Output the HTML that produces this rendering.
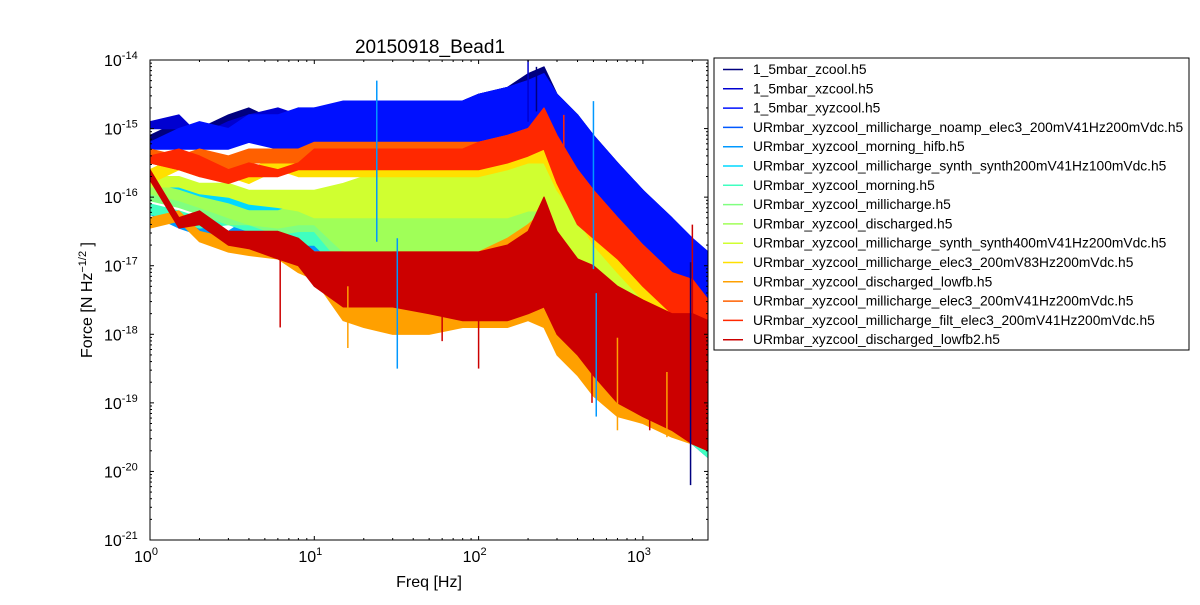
<!DOCTYPE html>
<html><head><meta charset="utf-8"><style>
body{margin:0;background:#fff;}
svg text{font-family:"Liberation Sans","DejaVu Sans",sans-serif;}
</style></head><body>
<svg id="chart" width="1200" height="600" xmlns="http://www.w3.org/2000/svg">
<rect width="1200" height="600" fill="#fff"/>
<defs><clipPath id="pc"><rect x="150" y="60" width="558" height="480"/></clipPath></defs>
<g id="marks" clip-path="url(#pc)"></g>
<rect x="150" y="60" width="558" height="480" fill="none" stroke="#000" stroke-width="1"/>
<g id="ticks"></g>
<text x="430" y="53" font-size="19" text-anchor="middle">20150918_Bead1</text>
<text x="429" y="587" font-size="16" text-anchor="middle">Freq [Hz]</text>
<text transform="translate(92,300) rotate(-90)" font-size="16" text-anchor="middle">Force [N Hz<tspan font-size="11" dy="-6">−1/2</tspan><tspan dy="6"> ]</tspan></text>
<g id="legend"></g>
</svg>
<script>
const names=["1_5mbar_zcool.h5","1_5mbar_xzcool.h5","1_5mbar_xyzcool.h5","URmbar_xyzcool_millicharge_noamp_elec3_200mV41Hz200mVdc.h5","URmbar_xyzcool_morning_hifb.h5","URmbar_xyzcool_millicharge_synth_synth200mV41Hz100mVdc.h5","URmbar_xyzcool_morning.h5","URmbar_xyzcool_millicharge.h5","URmbar_xyzcool_discharged.h5","URmbar_xyzcool_millicharge_synth_synth400mV41Hz200mVdc.h5","URmbar_xyzcool_millicharge_elec3_200mV83Hz200mVdc.h5","URmbar_xyzcool_discharged_lowfb.h5","URmbar_xyzcool_millicharge_elec3_200mV41Hz200mVdc.h5","URmbar_xyzcool_millicharge_filt_elec3_200mV41Hz200mVdc.h5","URmbar_xyzcool_discharged_lowfb2.h5"];
const colors=["#00007f","#0000d0","#0010ff","#0058ff","#0098ff","#00d8ff","#40ffc0","#80ff80","#a0ff58","#d0ff30","#ffe000","#ffa000","#ff6000","#ff2800","#cc0000"];
const freqs=[1,1.5,2,3,4,6,8,10,15,20,30,50,80,100,150,200,250,300,400,500,700,1000,1500,2000,2500];
const hi0=[-15.1,-14.9,-15.0,-14.8,-14.7,-14.9,-14.7,-14.8,-14.7,-14.7,-14.6,-14.6,-14.6,-14.5,-14.4,-14.2,-14.1,-14.5,-14.8,-15.1,-15.5,-15.9,-16.4,-16.8,-16.9];
const lo0=[-15.2,-15.0,-15.3,-15.1,-15.0,-15.2,-15.1,-15.2,-15.4,-15.5,-15.6,-15.6,-15.5,-15.5,-15.5,-15.3,-15.4,-15.8,-16.1,-16.4,-16.8,-17.2,-17.5,-17.7,-17.8];
const hi1=[-14.9,-14.8,-15.1,-14.9,-14.8,-14.7,-14.8,-14.7,-14.7,-14.6,-14.6,-14.6,-14.6,-14.5,-14.4,-14.3,-14.2,-14.5,-14.8,-15.1,-15.5,-15.9,-16.3,-16.7,-16.8];
const lo1=[-15.0,-15.0,-15.3,-15.2,-15.1,-15.1,-15.2,-15.3,-15.4,-15.5,-15.5,-15.5,-15.5,-15.4,-15.4,-15.3,-15.4,-15.8,-16.1,-16.4,-16.8,-17.2,-17.5,-17.7,-17.9];
const hi2=[-15.2,-15.0,-14.9,-15.0,-14.8,-14.8,-14.7,-14.7,-14.6,-14.6,-14.6,-14.6,-14.6,-14.5,-14.4,-14.3,-14.2,-14.5,-14.8,-15.1,-15.5,-15.9,-16.3,-16.6,-16.8];
const lo2=[-15.3,-15.3,-15.3,-15.3,-15.2,-15.3,-15.3,-15.3,-15.4,-15.5,-15.6,-15.6,-15.5,-15.5,-15.4,-15.3,-15.4,-15.8,-16.1,-16.4,-16.8,-17.2,-17.5,-17.7,-17.9];
const hi3=[-15.6,-15.9,-16.0,-16.2,-16.0,-16.4,-16.3,-16.3,-16.2,-16.0,-15.9,-15.8,-15.7,-15.6,-15.6,-15.5,-15.3,-15.8,-16.2,-16.6,-17.1,-17.5,-18.0,-18.2,-18.4];
const lo3=[-15.75,-16.05,-16.15,-16.35,-16.2,-16.6,-16.55,-16.6,-17.1,-17.2,-17.3,-17.3,-17.3,-17.2,-17.2,-17.1,-17.2,-17.6,-17.9,-18.2,-18.6,-19.0,-19.3,-19.6,-19.8];
const hi4=[-16.1,-16.3,-16.4,-16.5,-16.3,-16.5,-16.6,-16.4,-16.2,-16.0,-15.8,-15.7,-15.6,-15.6,-15.5,-15.4,-15.3,-15.8,-16.2,-16.6,-17.1,-17.5,-17.9,-18.1,-18.3];
const lo4=[-16.25,-16.45,-16.55,-16.7,-16.5,-16.75,-16.85,-16.8,-17.3,-17.3,-17.4,-17.3,-17.3,-17.2,-17.2,-17.1,-17.2,-17.6,-17.9,-18.2,-18.6,-19.0,-19.4,-19.6,-19.8];
const hi5=[-15.8,-15.8,-15.9,-15.9,-16.0,-16.0,-16.1,-16.0,-16.0,-15.8,-15.6,-15.5,-15.5,-15.6,-15.6,-15.5,-15.4,-15.9,-16.4,-16.8,-17.2,-17.6,-18.0,-18.3,-18.5];
const lo5=[-15.95,-15.95,-16.05,-16.1,-16.2,-16.25,-16.35,-16.4,-16.9,-17.0,-17.1,-17.1,-17.1,-17.0,-17.0,-16.9,-17.0,-17.4,-17.8,-18.1,-18.5,-18.9,-19.2,-19.4,-19.6];
const hi6=[-16.1,-16.2,-16.3,-16.2,-16.3,-16.3,-16.4,-16.3,-16.2,-16.0,-15.9,-15.8,-15.8,-15.8,-15.7,-15.6,-15.5,-16.0,-16.5,-16.9,-17.3,-17.7,-18.1,-18.3,-18.5];
const lo6=[-16.25,-16.35,-16.45,-16.4,-16.5,-16.55,-16.7,-16.7,-17.1,-17.2,-17.2,-17.3,-17.3,-17.2,-17.2,-17.1,-17.2,-17.6,-18.0,-18.3,-18.7,-19.1,-19.4,-19.6,-19.8];
const hi7=[-15.9,-16.0,-16.1,-16.2,-16.2,-16.3,-16.2,-16.1,-16.0,-15.9,-15.8,-15.8,-15.7,-15.7,-15.6,-15.5,-15.4,-15.9,-16.4,-16.8,-17.2,-17.6,-18.0,-18.2,-18.4];
const lo7=[-16.05,-16.15,-16.25,-16.4,-16.4,-16.55,-16.5,-16.5,-17.0,-17.0,-17.0,-17.0,-17.0,-16.9,-16.9,-16.8,-16.9,-17.3,-17.7,-18.1,-18.5,-18.9,-19.3,-19.5,-19.7];
const hi8=[-15.8,-15.9,-16.0,-16.1,-16.2,-16.2,-16.1,-16.0,-15.9,-15.9,-15.8,-15.8,-15.7,-15.7,-15.6,-15.5,-15.4,-15.9,-16.4,-16.8,-17.2,-17.6,-17.9,-18.1,-18.3];
const lo8=[-15.95,-16.05,-16.15,-16.3,-16.4,-16.45,-16.4,-16.4,-16.8,-16.8,-16.8,-16.8,-16.8,-16.8,-16.8,-16.7,-16.8,-17.2,-17.6,-18.0,-18.4,-18.8,-19.2,-19.4,-19.6];
const hi9=[-15.7,-15.7,-15.8,-15.8,-15.9,-15.9,-15.9,-15.9,-15.8,-15.7,-15.7,-15.6,-15.6,-15.6,-15.5,-15.4,-15.3,-15.8,-16.3,-16.7,-17.1,-17.5,-17.9,-18.1,-18.3];
const lo9=[-15.85,-15.85,-15.95,-16.0,-16.1,-16.15,-16.2,-16.3,-16.3,-16.3,-16.3,-16.3,-16.3,-16.3,-16.3,-16.2,-16.2,-17.0,-17.4,-17.8,-18.2,-18.6,-19.0,-19.2,-19.4];
const hi10=[-15.6,-15.4,-15.5,-15.5,-15.6,-15.4,-15.5,-15.4,-15.4,-15.4,-15.4,-15.4,-15.4,-15.4,-15.3,-15.2,-15.1,-15.5,-15.9,-16.3,-16.7,-17.1,-17.5,-17.7,-17.9];
const lo10=[-15.8,-15.6,-15.7,-15.7,-15.8,-15.6,-15.7,-15.7,-15.7,-15.7,-15.7,-15.7,-15.7,-15.7,-15.6,-15.5,-15.5,-15.9,-16.3,-16.7,-17.1,-17.5,-17.9,-18.1,-18.3];
const hi11=[-16.3,-16.2,-16.5,-16.6,-16.6,-16.6,-16.8,-16.8,-16.8,-16.9,-16.8,-16.8,-16.8,-16.8,-16.6,-16.4,-16.2,-16.5,-16.9,-17.2,-17.5,-17.8,-18.0,-18.2,-18.4];
const lo11=[-16.45,-16.35,-16.65,-16.8,-16.85,-16.9,-17.1,-17.2,-17.8,-17.9,-18.0,-18.0,-17.9,-17.9,-17.9,-17.8,-17.9,-18.3,-18.6,-18.9,-19.2,-19.3,-19.5,-19.6,-19.7];
const hi12=[-15.3,-15.4,-15.3,-15.4,-15.3,-15.3,-15.3,-15.2,-15.2,-15.2,-15.2,-15.2,-15.2,-15.2,-15.1,-15.0,-14.8,-15.2,-15.6,-15.9,-16.3,-16.7,-17.1,-17.3,-17.5];
const lo12=[-15.5,-15.6,-15.5,-15.6,-15.5,-15.5,-15.5,-15.5,-15.5,-15.5,-15.5,-15.5,-15.5,-15.5,-15.4,-15.3,-15.2,-15.6,-16.0,-16.4,-16.8,-17.2,-17.6,-17.8,-18.0];
const hi13=[-15.4,-15.3,-15.4,-15.6,-15.5,-15.6,-15.5,-15.3,-15.3,-15.3,-15.3,-15.3,-15.3,-15.2,-15.1,-15.0,-14.7,-15.1,-15.6,-15.9,-16.3,-16.7,-17.1,-17.2,-17.5];
const lo13=[-15.5,-15.6,-15.7,-15.8,-15.7,-15.7,-15.6,-15.6,-15.6,-15.6,-15.6,-15.6,-15.6,-15.6,-15.5,-15.4,-15.3,-15.8,-16.4,-16.6,-16.9,-17.3,-17.7,-17.9,-18.0];
const hi14=[-15.6,-16.3,-16.2,-16.5,-16.5,-16.5,-16.6,-16.8,-16.8,-16.8,-16.8,-16.8,-16.8,-16.8,-16.7,-16.5,-16.0,-16.5,-16.9,-17.0,-17.3,-17.5,-17.7,-17.7,-17.8];
const lo14=[-15.75,-16.45,-16.4,-16.7,-16.75,-16.9,-17.0,-17.3,-17.6,-17.6,-17.6,-17.7,-17.8,-17.8,-17.8,-17.7,-17.6,-18.0,-18.3,-18.6,-19.0,-19.2,-19.4,-19.6,-19.7];
const hiArr=[hi0,hi1,hi2,hi3,hi4,hi5,hi6,hi7,hi8,hi9,hi10,hi11,hi12,hi13,hi14];
const loArr=[lo0,lo1,lo2,lo3,lo4,lo5,lo6,lo7,lo8,lo9,lo10,lo11,lo12,lo13,lo14];
const spikeFreq=[24,32,16,6.2,100,200,225,500,520,490,1400,1950,330,2000,1100,350,60,700];
const spikeExp=[-14.3,-18.5,-18.2,-17.9,-18.5,-14.0,-14.1,-14.6,-19.2,-19.0,-19.5,-20.2,-14.8,-16.4,-19.4,-17.9,-18.1,-19.4];
const spikeSeries=[4,4,11,14,14,1,0,4,4,14,11,0,13,14,14,14,14,11];
const xTicks=[1,10,100,1000];
const xTickLabels=["0","1","2","3"];
const yTicks=[-14,-15,-16,-17,-18,-19,-20,-21];

const X0=150,X1=708,Y0=60,Y1=540,XMIN=0,XMAX=Math.log10(2490),YMAX=-14,YMIN=-21;
const xs=f=>X0+(Math.log10(f)-XMIN)/(XMAX-XMIN)*(X1-X0);
const ys=e=>Y0+(YMAX-e)/(YMAX-YMIN)*(Y1-Y0);
const NS="http://www.w3.org/2000/svg";
const mk=(t,a)=>{const e=document.createElementNS(NS,t);for(const k in a)e.setAttribute(k,a[k]);return e;};
const marks=document.getElementById('marks');
for(let s=0;s<15;s++){
  const hi=hiArr[s],lo=loArr[s];
  let d="M"+freqs.map((f,i)=>xs(f).toFixed(1)+","+ys(hi[i]).toFixed(1)).join("L");
  d+="L"+freqs.map((f,i)=>xs(f).toFixed(1)+","+ys(lo[i]).toFixed(1)).reverse().join("L")+"Z";
  const p=mk('path',{d:d,fill:colors[s],stroke:colors[s],'stroke-width':1.2,'stroke-linejoin':'round'});
  
  
  marks.appendChild(p);
}
for(let k=0;k<spikeFreq.length;k++){
  const s=spikeSeries[k];
  let i=0;while(i<freqs.length-1&&freqs[i+1]<spikeFreq[k])i++;
  const mid=(hiArr[s][i]+loArr[s][i])/2;
  const l=mk('line',{x1:xs(spikeFreq[k]),x2:xs(spikeFreq[k]),y1:ys(mid),y2:ys(spikeExp[k]),stroke:colors[s],'stroke-width':1.5});
  
  
  marks.appendChild(l);
}
const tg=document.getElementById('ticks');
for(let d=0;d<=3;d++){
  for(let m=1;m<10;m++){
    const f=Math.pow(10,d)*m; if(f>2490)break;
    const x=xs(f),L=m===1?4:2;
    tg.appendChild(mk('line',{x1:x,x2:x,y1:Y1,y2:Y1-L,stroke:'#000'}));
    tg.appendChild(mk('line',{x1:x,x2:x,y1:Y0,y2:Y0+L,stroke:'#000'}));
  }
}
xTicks.forEach((f,i)=>{
  const t=mk('text',{x:xs(f)-4,y:562,'font-size':16,'text-anchor':'middle'});
  
  
  t.innerHTML='10<tspan font-size="11" dy="-7">'+xTickLabels[i]+'</tspan>';
  tg.appendChild(t);
});
for(let e=-21;e<-14;e++){
  for(let m=1;m<10;m++){
    const y=ys(e+Math.log10(m)),L=m===1?4:2;
    tg.appendChild(mk('line',{x1:X0,x2:X0+L,y1:y,y2:y,stroke:'#000'}));
    tg.appendChild(mk('line',{x1:X1,x2:X1-L,y1:y,y2:y,stroke:'#000'}));
  }
}
yTicks.forEach(e=>{
  const t=mk('text',{x:104,y:ys(e)+6,'font-size':16});
  
  
  t.innerHTML='10<tspan font-size="11" dy="-7">'+e+'</tspan>';
  tg.appendChild(t);
});
const lg=document.getElementById('legend');
const box=mk('rect',{x:714,y:58,width:475,height:292,fill:'#fff',stroke:'#000'});


lg.appendChild(box);
names.forEach((n,i)=>{
  const y=69.5+i*19.3;
  const g=mk('g',{});
  
  
  g.appendChild(mk('line',{x1:723,x2:743,y1:y,y2:y,stroke:colors[i],'stroke-width':1.5}));
  const t=mk('text',{x:753,y:y+4.5,'font-size':13.8});
  t.textContent=n;
  g.appendChild(t);
  lg.appendChild(g);
});
</script>
</body></html>
